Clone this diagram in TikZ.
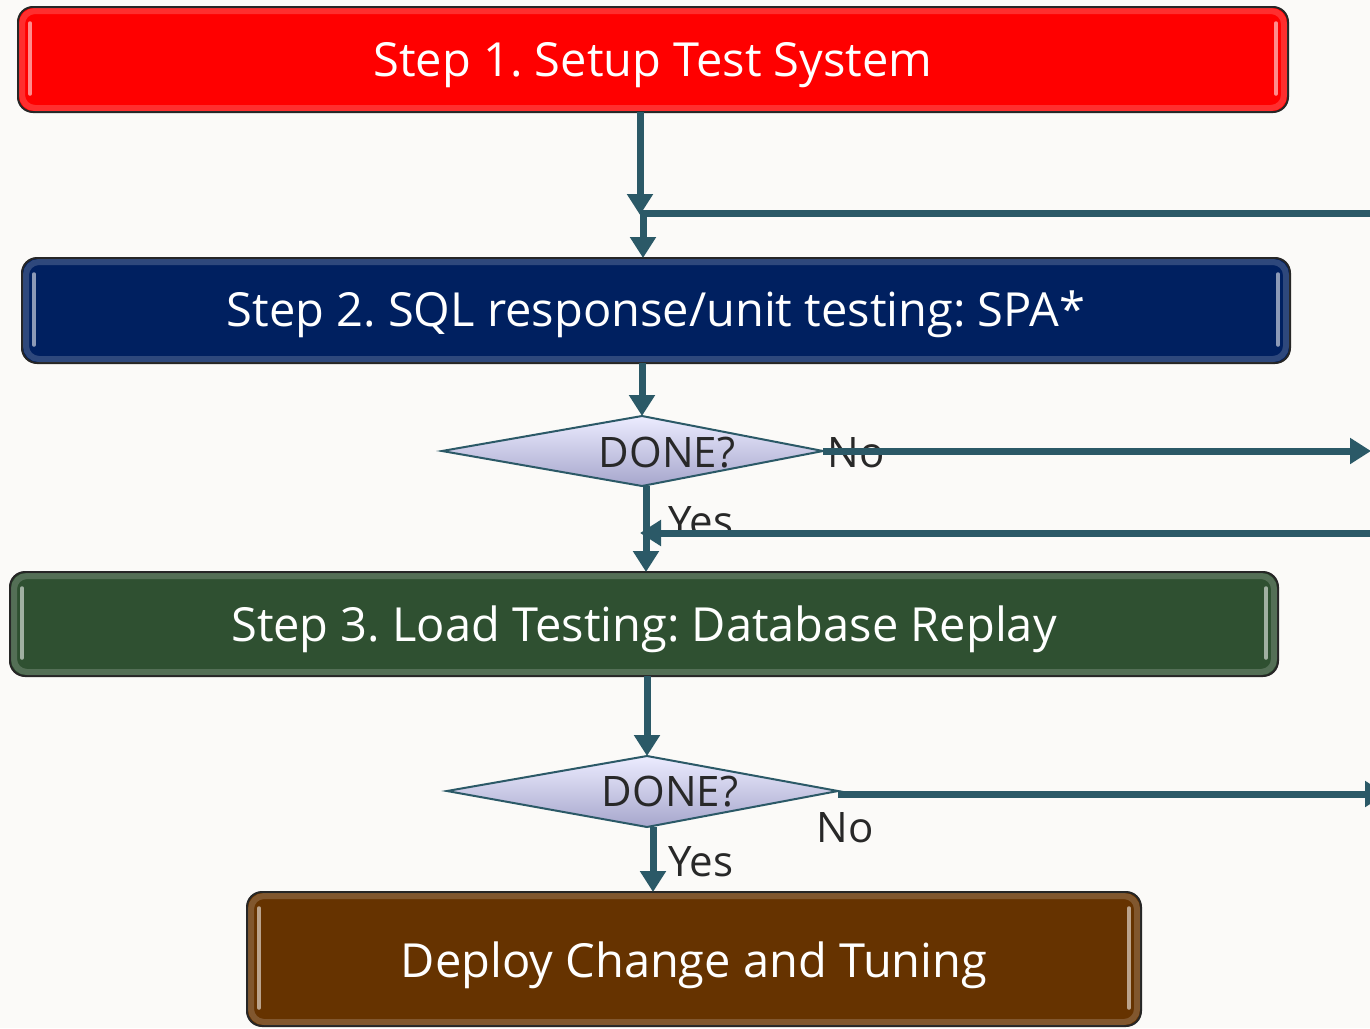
\documentclass[tikz,border=0pt]{standalone}
\usepackage{fontspec}
\setmainfont{Open Sans}
\usetikzlibrary{arrows.meta,calc}
\definecolor{bgc}{RGB}{251,250,248}
\definecolor{arrc}{RGB}{43,89,103}
\definecolor{redc}{RGB}{255,0,0}
\definecolor{navyc}{RGB}{0,32,96}
\definecolor{greenc}{RGB}{47,80,49}
\definecolor{brownc}{RGB}{102,51,0}
\definecolor{lav}{RGB}{208,208,255}
\definecolor{txtc}{RGB}{40,40,40}
\tikzset{
  stepbox/.style={draw=black!85, line width=2pt, rounded corners=15pt, inner sep=0pt, outer sep=0pt},
  steptext/.style={text=white, inner sep=0pt, anchor=base, font=\fontsize{47}{56}\selectfont},
  rim/.style={draw=white, opacity=.18, line width=6pt, rounded corners=13pt},
  hl/.style={draw=white, opacity=.55, line width=3.5pt, line cap=round},
  arr/.style={draw=arrc, line width=7pt, -{Triangle[length=21pt,width=25pt]}},
  dtext/.style={text=txtc, inner sep=0pt, font=\fontsize{42}{48}\selectfont},
  dborder/.style={draw=arrc, line width=2pt, line join=miter},
}
\newcommand{\mygloss}[1]{%
  \draw[rim] ([shift={(4pt,-4pt)}]#1.north west) rectangle ([shift={(-4pt,4pt)}]#1.south east);
  \draw[hl] ([shift={(12pt,-16pt)}]#1.north west) -- ([shift={(12pt,18pt)}]#1.south west);
  \draw[hl] ([shift={(-12pt,-16pt)}]#1.north east) -- ([shift={(-12pt,18pt)}]#1.south east);
}
\begin{document}
\frenchspacing
\begin{tikzpicture}[x=1pt,y=-1pt]
\useasboundingbox (0,0) rectangle (1370,1028);
\clip (0,0) rectangle (1370,1028);
\fill[bgc] (0,0) rectangle (1370,1028);

% step boxes
\node[stepbox, fill=redc, minimum width=1270pt, minimum height=105pt] (s1) at (653,59.5) {};
\node[stepbox, fill=navyc, minimum width=1268pt, minimum height=105pt] (s2) at (656,310.5) {};
\node[stepbox, fill=greenc, minimum width=1268pt, minimum height=104pt] (s3) at (644,624) {};
\node[stepbox, fill=brownc, minimum width=894pt, minimum height=134pt] (s4) at (694,959) {};
\mygloss{s1}
\mygloss{s2}
\mygloss{s3}
\mygloss{s4}
\node[steptext] (t1) at (653,76) {Step 1. Setup Test System};
\node[steptext] (t2) at (656,326) {Step 2. SQL response/unit testing: SPA*};
\node[steptext] (t3) at (644,641) {Step 3. Load Testing: Database Replay};
\node[steptext] (t4) at (694,977) {Deploy Change and Tuning};

% diamonds
\coordinate (d1l) at (442,451);
\coordinate (d1t) at (642,416);
\coordinate (d1r) at (823,451);
\coordinate (d1b) at (642,486);
\draw[dborder, top color=lav!40!white, middle color=lav, bottom color=lav!80!black] (d1l) -- (d1t) -- (d1r) -- (d1b) -- cycle;
\node[dtext] (d1) at (667,452.5) {DONE?};

\coordinate (d2l) at (447,791);
\coordinate (d2t) at (647,756);
\coordinate (d2r) at (838,791);
\coordinate (d2b) at (647,827);
\draw[dborder, top color=lav!40!white, middle color=lav, bottom color=lav!80!black] (d2l) -- (d2t) -- (d2r) -- (d2b) -- cycle;
\node[dtext] (d2) at (670,792) {DONE?};

% labels
\node[dtext] (no1) at (856,452.5) {No};
\node[dtext] (yes1) at (701,522) {Yes};
\node[dtext] (yes2) at (701,862) {Yes};
\node[dtext] (no2) at (845,828) {No};

% connectors
\coordinate (j1) at (640,215);
\coordinate (j2) at (643,213);
\coordinate (e1) at (1380,213);
\draw[arr] (s1.south -| j1) -- (j1);
\draw[arr] (e1) -- (j2) -- (j2 |- s2.north);

\draw[arr] (s2.south -| d1t) -- (d1t);

\coordinate (y1) at (646,486);
\draw[arr] (y1) -- (y1 |- s3.north);

\coordinate (e2) at (1371,451);
\draw[arr] (d1r) -- (e2);

\coordinate (e3) at (1380,533);
\coordinate (k1) at (640,533);
\draw[arr] (e3) -- (k1);

\draw[arr] (s3.south -| d2t) -- (d2t);

\coordinate (y2) at (653,827);
\draw[arr] (y2) -- (y2 |- s4.north);

\coordinate (n2) at (838,794);
\coordinate (e4) at (1386,794);
\draw[arr] (n2) -- (e4);
\end{tikzpicture}
\end{document}
